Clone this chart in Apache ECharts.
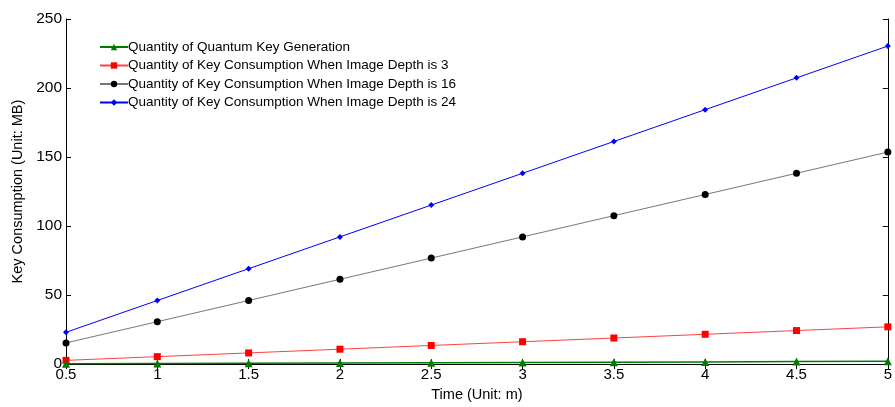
<!DOCTYPE html>
<html><head><meta charset="utf-8">
<script src="https://cdn.jsdelivr.net/npm/echarts@6/dist/echarts.min.js"></script>
<style>html,body{margin:0;padding:0;background:#fff}#c{width:895px;height:407px}</style>
</head><body><div id="c"></div>
<script>
const timeCats = [0.5, 1, 1.5, 2, 2.5, 3, 3.5, 4, 4.5, 5];
const quantumGen = [0.2, 0.4, 0.6, 0.8, 1.0, 1.2, 1.4, 1.6, 1.8, 2.0];
const depth3 = [2.7, 5.4, 8.1, 10.8, 13.5, 16.2, 18.9, 21.6, 24.3, 27.0];
const depth16 = [15.36, 30.72, 46.08, 61.44, 76.8, 92.16, 107.52, 122.88, 138.24, 153.6];
const depth24 = [23.04, 46.08, 69.12, 92.16, 115.2, 138.24, 161.28, 184.32, 207.36, 230.4];
const seriesNames = [
  'Quantity of Quantum Key Generation',
  'Quantity of Key Consumption When Image Depth is 3',
  'Quantity of Key Consumption When Image Depth is 16',
  'Quantity of Key Consumption When Image Depth is 24'
];
const font = 'Liberation Sans, Arial, Helvetica, sans-serif';
function pairs(v){ return timeCats.map((x,i)=>[x,v[i]]); }
const chart = echarts.init(document.getElementById('c'));
const axLine = {show:true, lineStyle:{color:'#000', width:1}};
chart.setOption({
  animation:false,
  backgroundColor:'#fff',
  grid:{left:66, right:2, top:19, bottom:41},
  legend:{
    orient:'vertical', left:94, top:35, itemGap:4.5, itemWidth:28, itemHeight:8,
    textStyle:{fontFamily:font, fontSize:13.5, color:'#000', padding:[0,0,0,-5]},
    data:seriesNames
  },
  xAxis:[{
    type:'value', min:0.5, max:5, interval:0.5,
    name:'Time (Unit: m)', nameLocation:'middle', nameGap:22,
    nameTextStyle:{fontFamily:font, fontSize:14.5, color:'#000'},
    axisLine:axLine, axisTick:{inside:true, length:5, lineStyle:{color:'#000'}},
    axisLabel:{fontFamily:font, fontSize:15, color:'#000', margin:3},
    splitLine:{show:false}
  },{
    type:'value', position:'top', min:0.5, max:5, interval:0.5,
    axisLine:axLine, axisTick:{inside:true, length:5, lineStyle:{color:'#000'}},
    axisLabel:{show:false}, splitLine:{show:false}
  }],
  yAxis:[{
    type:'value', min:0, max:250, interval:50,
    name:'Key Consumption (Unit: MB)', nameLocation:'middle', nameGap:41,
    nameTextStyle:{fontFamily:font, fontSize:14.5, color:'#000'},
    axisLine:axLine, axisTick:{inside:true, length:5, lineStyle:{color:'#000'}},
    axisLabel:{fontFamily:font, fontSize:15.5, color:'#000', margin:4},
    splitLine:{show:false}
  },{
    type:'value', position:'right', min:0, max:250, interval:50,
    axisLine:axLine, axisTick:{inside:true, length:5, lineStyle:{color:'#000'}},
    axisLabel:{show:false}, splitLine:{show:false}
  }],
  series:[
    {name:seriesNames[0], type:'line', data:pairs(quantumGen), symbol:'triangle', symbolSize:8,
     lineStyle:{color:'#007a00', width:1.5}, itemStyle:{color:'#007a00'}, z:5},
    {name:seriesNames[1], type:'line', data:pairs(depth3), symbol:'rect', symbolSize:7,
     lineStyle:{color:'#ff4040', width:1}, itemStyle:{color:'#ff0000'}},
    {name:seriesNames[2], type:'line', data:pairs(depth16), symbol:'circle', symbolSize:7,
     lineStyle:{color:'#777', width:1}, itemStyle:{color:'#000'}},
    {name:seriesNames[3], type:'line', data:pairs(depth24), symbol:'diamond', symbolSize:6,
     lineStyle:{color:'#0000ff', width:1}, itemStyle:{color:'#0000ff'}}
  ]
});
</script></body></html>
